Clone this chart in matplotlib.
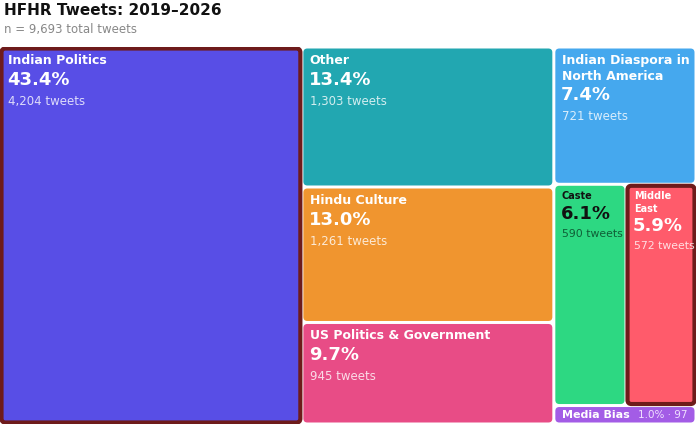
import matplotlib.pyplot as plt
from matplotlib.patches import FancyBboxPatch

names = ["Indian Politics", "Other", "Hindu Culture", "US Politics & Government",
         "Indian Diaspora in\nNorth America", "Caste", "Middle\nEast", "Media Bias"]
counts = [4204, 1303, 1261, 945, 721, 590, 572, 97]
pcts = [43.4, 13.4, 13.0, 9.7, 7.4, 6.1, 5.9, 1.0]
colors = ["#584EE6", "#22A7B1", "#F0952F", "#E84C86", "#45A8EE", "#2DD882", "#FF5B6B", "#A35CE6"]
highlight = [True, False, False, False, False, False, True, False]

W, H = 696, 377
total = sum(counts)

# layout: column 1 = [0], column 2 = stack [1,2,3], column 3 = stack [4, row(5,6), 7]
rects = {}
w1 = W * counts[0] / total
rects[0] = (0, 0, w1, H)
x0 = w1
c2 = counts[1] + counts[2] + counts[3]
w2 = W * c2 / total
y = 0
for i in (1, 2, 3):
    h = H * counts[i] / c2
    rects[i] = (x0, y, w2, h)
    y += h
x0 += w2
w3 = W - x0
c3 = sum(counts[4:])
h = H * counts[4] / c3
rects[4] = (x0, 0, w3, h)
y = h
hr = H * (counts[5] + counts[6]) / c3
wc = w3 * counts[5] / (counts[5] + counts[6])
rects[5] = (x0, y, wc, hr)
rects[6] = (x0 + wc, y, w3 - wc, hr)
y += hr
rects[7] = (x0, y, w3, H - y)

fig = plt.figure(figsize=(6.96, 4.24), dpi=100)
ax = fig.add_axes([0, 0, 1, H / 424])
ax.set_xlim(0, W)
ax.set_ylim(H, 0)
ax.axis("off")

g = 1.5
for i in range(len(names)):
    x, y, w, h = rects[i]
    ec = "#6E1B1B" if highlight[i] else "none"
    lw = 3 if highlight[i] else 0
    ax.add_patch(FancyBboxPatch((x + g, y + g), w - 2 * g, h - 2 * g,
                                boxstyle="round,pad=0,rounding_size=4",
                                fc=colors[i], ec=ec, lw=lw))
    tx, ty = x + 8, y + 7
    if i == 7:
        ax.text(tx, y + h / 2, names[i], color="white", fontsize=8, fontweight="bold", va="center")
        ax.text(x + w - 8, y + h / 2, f"{pcts[i]:.1f}% · {counts[i]}", color="#F0E0FF",
                fontsize=7.5, va="center", ha="right")
        continue
    dark = i == 5
    c_main = "#111111" if dark else "white"
    c_sub = "#0F5E36" if dark else (1, 1, 1, 0.8)
    small = i in (5, 6)
    fs = 7 if small else 9
    ax.text(tx, ty, names[i], color=c_main, fontsize=fs, fontweight="bold", va="top", linespacing=1.3)
    nl = names[i].count("\n") + 1
    ty += nl * (fs * 1.75) + 1
    ax.text(tx - 1, ty, f"{pcts[i]:.1f}%", color=c_main, fontsize=13, fontweight="bold", va="top")
    ty += 24
    ax.text(tx, ty, f"{counts[i]:,} tweets", color=c_sub, fontsize=7.8 if small else 8.5, va="top")

fig.text(4 / 696, 1 - 3 / 424, "HFHR Tweets: 2019–2026", fontsize=11, fontweight="bold",
         va="top", color="#111111")
fig.text(4 / 696, 1 - 23 / 424, "n = 9,693 total tweets", fontsize=8.5, va="top", color="#888888")

fig.savefig("out.png", dpi=100)
